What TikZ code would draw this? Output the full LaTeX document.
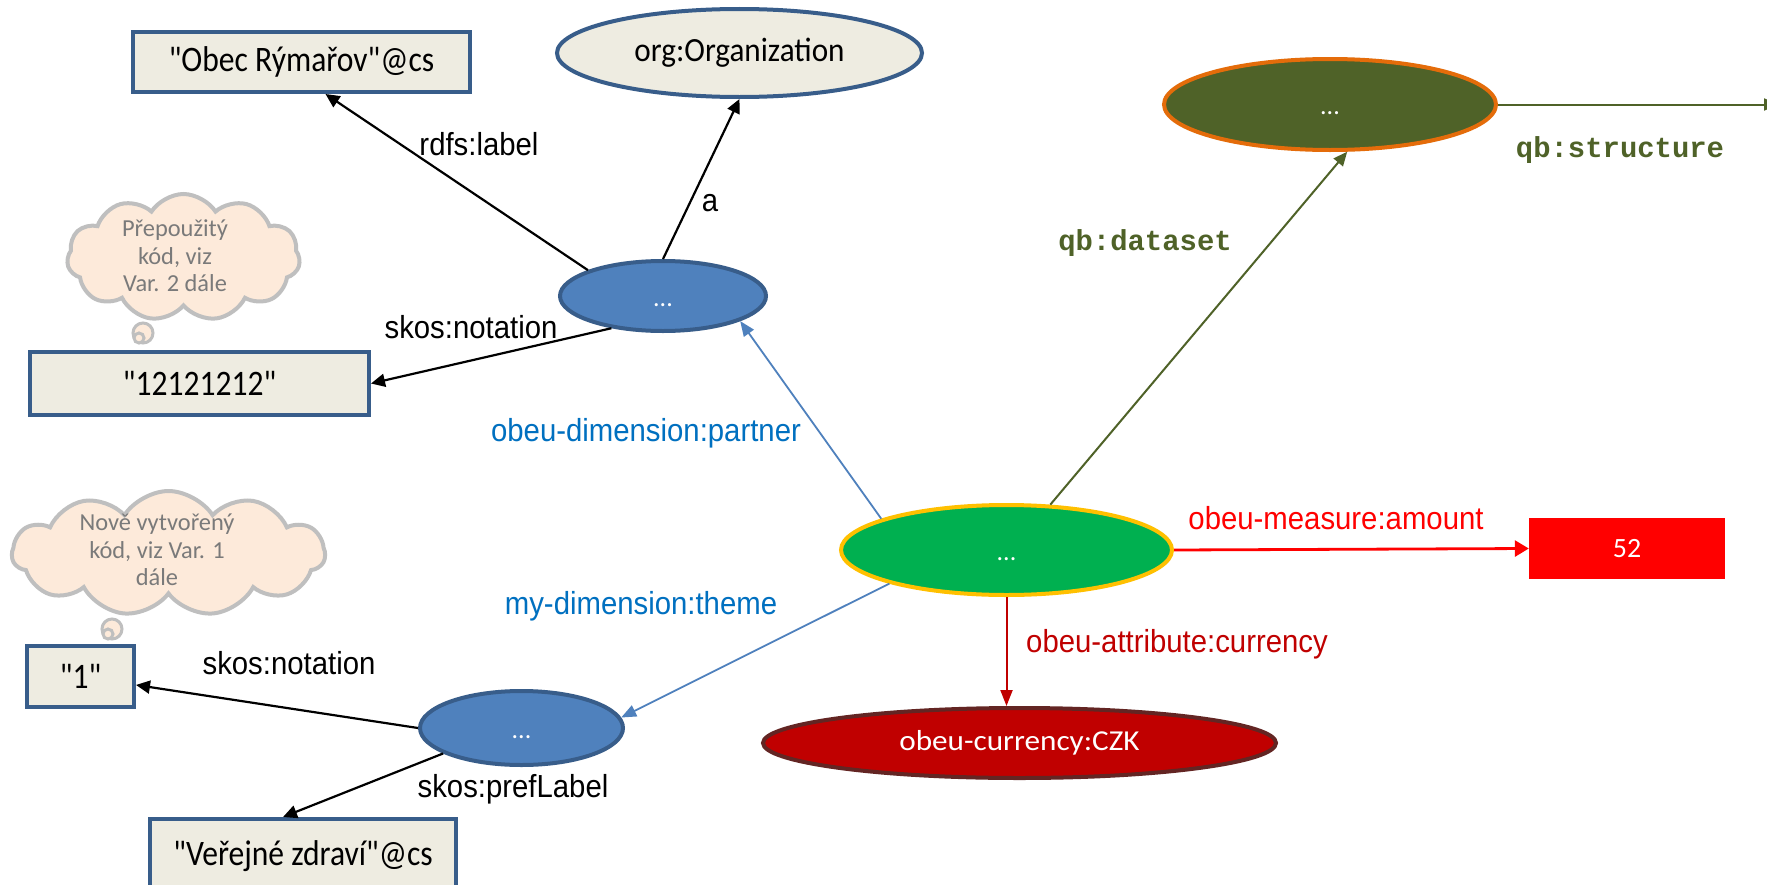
\documentclass[tikz,border=0pt]{standalone}
\usepackage{fontspec}
\setmainfont{Carlito}[Ligatures=TeXOff]
\newfontfamily\boxf{Carlito}[FakeStretch=0.88,Ligatures=TeXOff]
\newfontfamily\orgf{Carlito}[FakeStretch=0.92,Ligatures=TeXOff]
\newfontfamily\curf{Carlito}[FakeStretch=1.08,Ligatures=TeXOff]
\newfontfamily\lab{Liberation Sans}[FakeStretch=0.92]
\newfontfamily\monof{Liberation Mono}
\usetikzlibrary{shapes.geometric,shapes.symbols,arrows.meta}
\definecolor{boxfill}{HTML}{EEECE1}
\definecolor{boxline}{HTML}{385D8A}
\definecolor{bluefill}{HTML}{4F81BD}
\definecolor{olive}{HTML}{4F6228}
\definecolor{orangeline}{HTML}{E46C0A}
\definecolor{greenfill}{HTML}{00B050}
\definecolor{goldline}{HTML}{FFC000}
\definecolor{darkred}{HTML}{C00000}
\definecolor{brownline}{HTML}{632523}
\definecolor{labblue}{HTML}{0070C0}
\definecolor{cloudfill}{HTML}{FDEADA}
\definecolor{cloudline}{HTML}{BFBFBF}
\definecolor{cloudtext}{HTML}{7A7A7A}
\tikzset{
  lit/.style={draw=boxline, fill=boxfill, line width=4bp, inner sep=0pt, font=\boxf\fontsize{36}{40}\selectfont},
  res/.style={ellipse, line width=4bp, inner sep=0pt},
  dots/.style={text=white, font=\fontsize{26}{30}\selectfont, text height=20bp, text depth=0pt},
  edge/.style={line width=2.2bp, -{Triangle[length=14bp,width=13bp]}},
  bedge/.style={draw=bluefill, line width=1.8bp, -{Triangle[length=15bp,width=12bp]}},
  oedge/.style={draw=olive, line width=2bp, -{Triangle[length=14bp,width=12bp]}},
  lbl/.style={font=\lab\fontsize{32}{36}\selectfont, inner sep=0pt},
  qbl/.style={font=\monof\bfseries\fontsize{29}{33}\selectfont, text=olive, inner sep=0pt},
  thought/.style={cloud, cloud puffs=11, cloud puff arc=115, draw=cloudline, fill=cloudfill, line width=4bp, inner sep=0pt},
  ctext/.style={text=cloudtext, align=center, font=\fontsize{24.5}{27.5}\selectfont, inner sep=0pt},
  tail/.style={draw=cloudline, fill=cloudfill, line width=3bp}
}
\begin{document}
\begin{tikzpicture}[x=1bp,y=-1bp]
\clip (0,0) rectangle (1767,884);
\fill[white] (0,0) rectangle (1767,884);
% clouds
\node[thought, minimum width=233bp, minimum height=127bp] (c1) at (183.5,257.5) {};
\node[ctext] (c1t) at (175,256) {Přepoužitý\\kód, viz\\Var. 2 dále};
\draw[tail] (143,333) circle (10);
\draw[tail] (139,338) circle (5);
\node[thought, minimum width=313bp, minimum height=125bp] (c2) at (168.5,553.5) {};
\node[ctext] (c2t) at (157,550) {Nově vytvořený\\kód, viz Var. 1\\dále};
\draw[tail] (112,629) circle (10);
\draw[tail] (108,634) circle (5);
% nodes
\node[lit, minimum width=337bp, minimum height=60bp] (obec) at (301.5,62) {"Obec Rýmařov"@cs};
\node[lit, minimum width=339bp, minimum height=63bp] (num) at (199.5,383.5) {"12121212"};
\node[lit, minimum width=107bp, minimum height=61bp] (one) at (80.5,676.5) {"1"};
\node[lit, minimum width=306bp, minimum height=74bp] (ver) at (303,856) {"Veřejné zdraví"@cs};
\node[res, fill=boxfill, draw=boxline, minimum width=365bp, minimum height=88bp, font=\orgf\fontsize{34}{38}\selectfont] (org) at (739.5,53) {org:Organization};
\node[res, fill=bluefill, draw=boxline, minimum width=206bp, minimum height=70bp, dots] (b1) at (663,296) {...};
\node[res, fill=olive, draw=orangeline, minimum width=332bp, minimum height=91bp, dots] (ds) at (1330,104.5) {...};
\node[res, fill=greenfill, draw=goldline, minimum width=331bp, minimum height=90bp, dots] (obs) at (1006.5,550) {...};
\node[fill=red, minimum width=196bp, minimum height=61bp, inner sep=0pt, text=white, font=\fontsize{28}{32}\selectfont] (val) at (1627,548.5) {52};
\node[res, fill=darkred, draw=brownline, minimum width=513bp, minimum height=70bp, text=white, font=\curf\fontsize{29}{33}\selectfont] (cur) at (1019.5,743) {obeu-currency:CZK};
\node[res, fill=bluefill, draw=boxline, minimum width=203bp, minimum height=74bp, dots] (b2) at (521.5,728) {...};
\coordinate (rightend) at (1778,104.5);
% connectors
\draw[edge] (b1.161) -- ([xshift=24bp]obec.south);
\draw[edge] (b1.north) -- (org.south);
\draw[edge] (b1.212) -- (num.east);
\draw[bedge] (obs.166) -- (b1.342);
\draw[bedge] (obs.196) -- (b2.6);
\draw[oedge] (obs.46) -- (ds.290);
\draw[oedge] (ds.east) -- (rightend);
\draw[draw=red, line width=2.8bp, -{Triangle[length=14bp,width=16bp]}] (obs.east) -- (val.west);
\draw[draw=darkred, line width=2bp, -{Triangle[length=16bp,width=12bp]}] (obs.south) -- (obs.south |- cur.north);
\draw[edge] (b2.west) -- (one);
\draw[edge] (b2.198) -- ([xshift=-20bp]ver.north);
% labels
\node[lbl] (l1) at (479,144) {rdfs:label};
\node[lbl] (l2) at (710,203) {a};
\node[lbl] (l3) at (471,327) {skos:notation};
\node[lbl, text=labblue] (l4) at (646,433) {obeu-dimension:partner};
\node[lbl, text=labblue] (l5) at (641,606) {my-dimension:theme};
\node[lbl, text=red] (l6) at (1336,518) {obeu-measure:amount};
\node[lbl, text=darkred] (l7) at (1177,644) {obeu-attribute:currency};
\node[lbl] (l8) at (289,663) {skos:notation};
\node[lbl] (l9) at (513,789) {skos:prefLabel};
\node[qbl] (l10) at (1145,243) {qb:dataset};
\node[qbl] (l11) at (1620,150) {qb:structure};
\end{tikzpicture}
\end{document}
